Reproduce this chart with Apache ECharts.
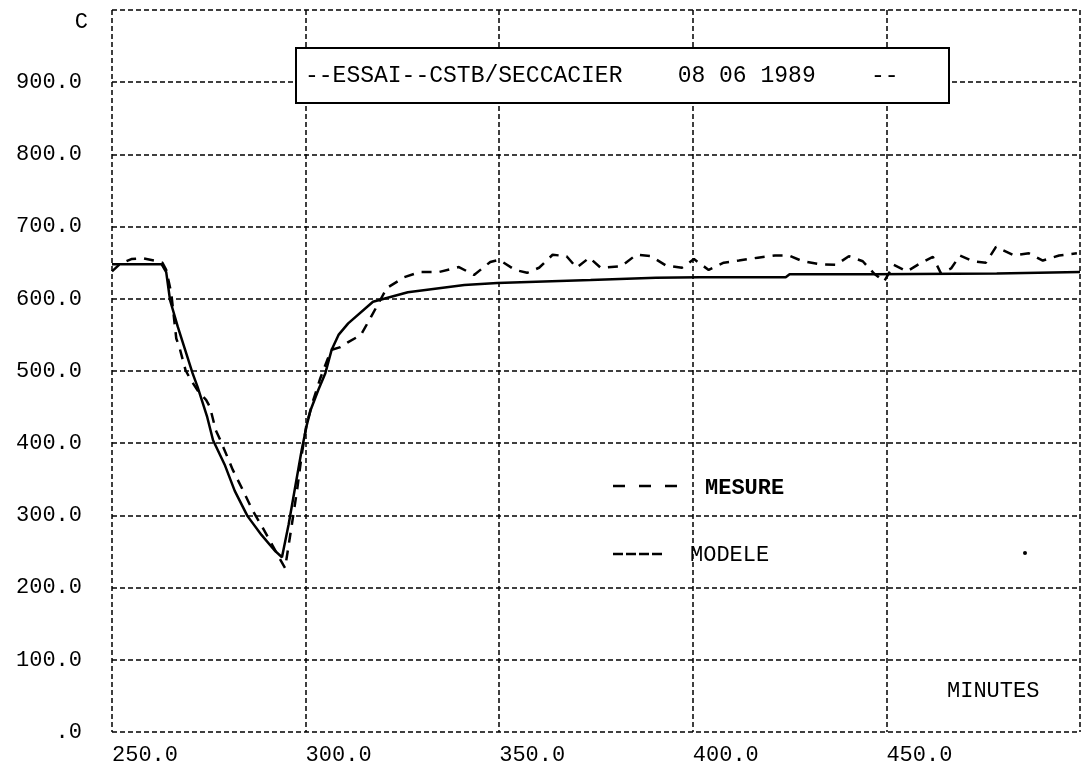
<!DOCTYPE html>
<html>
<head>
<meta charset="utf-8">
<script src="https://cdn.jsdelivr.net/npm/echarts@6/dist/echarts.min.js"></script>
<style>
  html, body { margin: 0; padding: 0; background: #fff; }
  #chart { width: 1086px; height: 768px; }
</style>
</head>
<body>
<div id="chart"></div>
<script>
// axes
const xTicks = [250, 300, 350, 400, 450, 500]
const yTicks = [0, 100, 200, 300, 400, 500, 600, 700, 800, 900, 1000]

// MESURE (dashed curve), minutes / temperature C
const mesureX = [250, 252, 255, 258, 261, 263, 264, 265.3, 266.6, 267.4, 269, 270.3, 272.5, 274.3, 275.3, 276.8, 278,
  281.2, 283.8, 286.3, 288.8, 291.4, 293.2, 294.7, 296.3, 297.8, 299, 300.2, 302, 303.8, 305.8, 306.5, 309, 311,
  314.3, 316.9, 321, 325.5, 329.4, 334.4, 339.6, 343.5, 347.7, 350, 354.1, 357.2, 360.3, 363.8, 367.4, 370, 373.3,
  376.2, 381.5, 385.4, 389.2, 393.1, 397.2, 400.3, 404.1, 408, 411.9, 416.8, 421.2, 424.8, 428.4, 432.6, 437, 440.3,
  443.9, 446.8, 449.4, 451.9, 455.3, 458.4, 462, 464.1, 466.7, 469, 472.4, 475.7, 478.3, 483, 486.8, 490.4, 494.6, 499.2]
const mesureY = [638, 648, 655, 656, 653, 650, 640, 608, 545, 533, 501, 488, 470, 460, 450, 418, 404,
  363, 335, 307, 284, 259, 241, 227, 282, 335, 384, 425, 460, 490, 518, 529, 533, 540,
  550, 575, 615, 630, 637, 637, 644, 633, 651, 654, 640, 636, 643, 661, 659, 643, 657,
  643, 645, 661, 659, 646, 643, 655, 640, 650, 653, 657, 660, 660, 652, 648, 647, 659,
  652, 635, 624, 647, 638, 648, 658, 635, 642, 660, 652, 650, 672, 660, 663, 653, 660, 663]

// MODELE (solid curve)
const modeleX = [250, 262.8, 264, 265, 267, 270.8, 272.1, 274.6, 276.1, 279.2, 281.7, 285, 288.6, 291.9, 293.9,
  295.6, 297.4, 299, 300.3, 301.3, 303.3, 305.1, 306.7, 308.5, 311, 317.4, 326.4, 341, 349.5, 373.6, 390.5,
  401.8, 424, 425, 446.6, 478.5, 500]
const modeleY = [648, 648, 637, 598, 561, 497, 478, 436, 404, 369, 334, 299, 273, 252, 242,
  287, 342, 391, 425, 446, 474, 497, 529, 550, 566, 596, 609, 619, 622, 626, 629,
  630, 630, 634, 634, 635, 637]

const titleText = '--ESSAI--CSTB/SECCACIER    08 06 1989    --'
const FONT = 'Liberation Mono'

const chart = echarts.init(document.getElementById('chart'))

const gridLine = { color: '#000', width: 1.5, type: [5, 3] }

chart.setOption({
  animation: false,
  backgroundColor: '#fff',
  grid: { left: 112, right: 6, top: 10, bottom: 36 },
  xAxis: {
    type: 'value',
    min: xTicks[0],
    max: xTicks[xTicks.length - 1],
    interval: 50,
    axisLine: { show: false },
    axisTick: { show: false },
    splitLine: { show: true, lineStyle: gridLine },
    axisLabel: {
      showMaxLabel: false,
      align: 'left',
      verticalAlign: 'top',
      margin: 12,
      color: '#000',
      fontFamily: FONT,
      fontSize: 22,
      formatter: v => (v === 500 ? '' : v.toFixed(1))
    }
  },
  yAxis: {
    type: 'value',
    min: yTicks[0],
    max: yTicks[yTicks.length - 1],
    interval: 100,
    axisLine: { show: false },
    axisTick: { show: false },
    splitLine: { show: true, lineStyle: gridLine },
    axisLabel: {
      showMaxLabel: false,
      align: 'right',
      verticalAlign: 'middle',
      padding: [0, 0, 12, 0],
      margin: 30,
      color: '#000',
      fontFamily: FONT,
      fontSize: 22,
      formatter: v => (v === 0 ? '.0' : v === 1000 ? '' : v.toFixed(1))
    }
  },
  series: [
    {
      name: 'MESURE',
      type: 'line',
      symbol: 'none',
      data: mesureX.map((x, i) => [x, mesureY[i]]),
      lineStyle: { color: '#000', width: 2.5, type: [10, 8] },
      z: 5
    },
    {
      name: 'MODELE',
      type: 'line',
      symbol: 'none',
      data: modeleX.map((x, i) => [x, modeleY[i]]),
      lineStyle: { color: '#000', width: 2.5 },
      z: 6
    }
  ],
  graphic: [
    // unit
    { type: 'text', x: 88, y: 22, z: 100, style: { text: 'C', font: `22px "${FONT}"`, fill: '#000', align: 'right', verticalAlign: 'middle' } },
    // title box
    { type: 'rect', z: 100, shape: { x: 296, y: 48, width: 653, height: 55 }, style: { fill: '#fff', stroke: '#000', lineWidth: 2 } },
    { type: 'text', x: 305, y: 76, z: 101, style: { text: titleText, font: `23px "${FONT}"`, fill: '#000', verticalAlign: 'middle' } },
    // legend
    { type: 'line', z: 100, shape: { x1: 613, y1: 486, x2: 680, y2: 486 }, style: { stroke: '#000', lineWidth: 2.5, lineDash: [12, 14] } },
    { type: 'text', x: 705, y: 488, z: 100, style: { text: 'MESURE', font: `bold 22px "${FONT}"`, fill: '#000', verticalAlign: 'middle' } },
    { type: 'line', z: 100, shape: { x1: 613, y1: 554, x2: 663, y2: 554 }, style: { stroke: '#000', lineWidth: 2.5, lineDash: [10, 3] } },
    { type: 'text', x: 690, y: 555, z: 100, style: { text: 'MODELE', font: `22px "${FONT}"`, fill: '#000', verticalAlign: 'middle' } },
    { type: 'circle', z: 100, shape: { cx: 1025, cy: 553, r: 2 }, style: { fill: '#000' } },
    // x unit
    { type: 'text', x: 947, y: 691, z: 100, style: { text: 'MINUTES', font: `22px "${FONT}"`, fill: '#000', verticalAlign: 'middle' } }
  ]
})

window.addEventListener('resize', () => chart.resize())
</script>
</body>
</html>
